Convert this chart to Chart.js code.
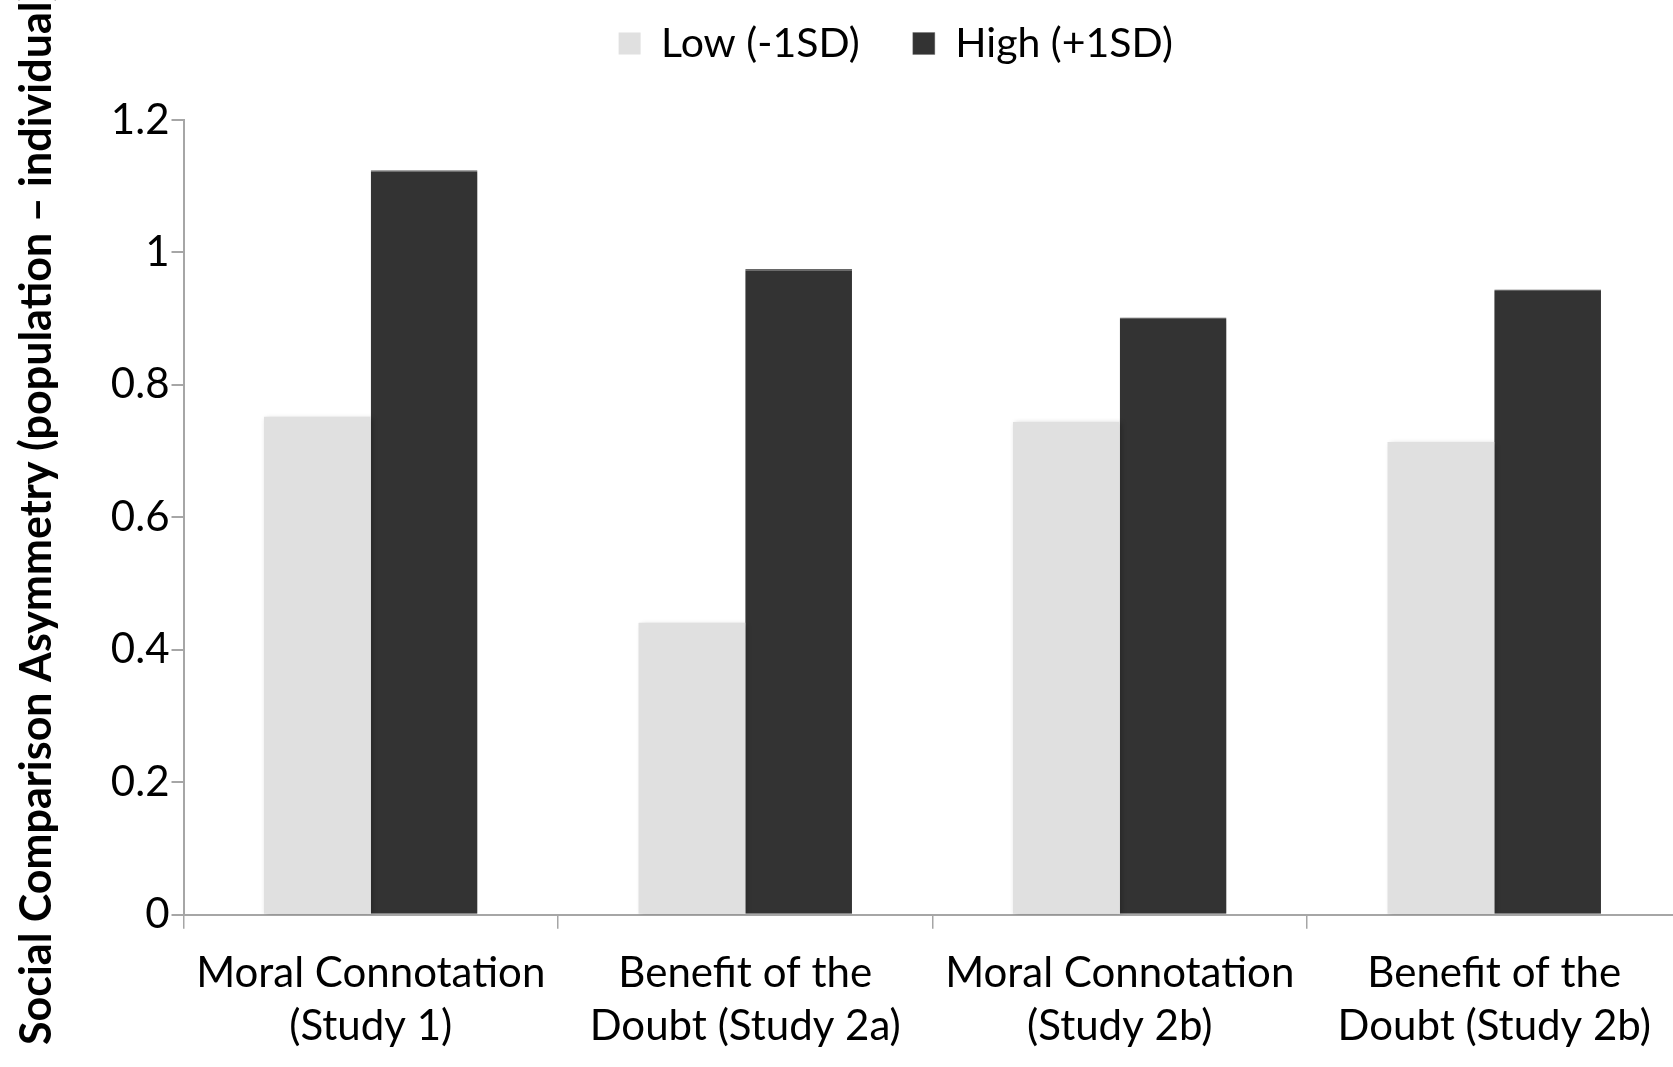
<!DOCTYPE html>
<html>
<head>
<meta charset="utf-8">
<script src="https://cdn.jsdelivr.net/npm/chart.js@4/dist/chart.umd.min.js"></script>
<style>
  html, body { margin: 0; padding: 0; background: #fff; overflow: hidden; }
  #wrap { width: 1690px; height: 1067px; }
</style>
</head>
<body>
<div id="wrap"><canvas id="c"></canvas></div>
<script>
/* ── data ── */
const categories = [
  ['Moral Connotation', '(Study 1)'],
  ['Benefit of the', 'Doubt (Study 2a)'],
  ['Moral Connotation', '(Study 2b)'],
  ['Benefit of the', 'Doubt (Study 2b)']
];
const lowValues  = [0.752, 0.441, 0.744, 0.714];
const highValues = [1.124, 0.975, 0.902, 0.944];
const seriesNames = ['Low (-1SD)', 'High (+1SD)'];
const yTitle = 'Social Comparison Asymmetry (population \u2013 individual)';

const FONT = 'Lato, "Open Sans", sans-serif';
const AXIS = '#a6a6a6';

// soft drop shadow behind the bars, like the original
const barShadow = {
  id: 'barShadow',
  beforeDatasetsDraw(chart) {
    const ctx = chart.ctx;
    ctx.save();
    ctx.shadowColor = 'rgba(0,0,0,0.22)';
    ctx.shadowBlur = 5;
    ctx.shadowOffsetX = 2;
    ctx.shadowOffsetY = 1;
  },
  afterDatasetsDraw(chart) { chart.ctx.restore(); }
};

new Chart(document.getElementById('c'), {
  type: 'bar',
  data: {
    labels: categories,
    datasets: [
      { label: seriesNames[0], data: lowValues, backgroundColor: '#e0e0e0', categoryPercentage: 0.57, barPercentage: 1.0 },
      { label: seriesNames[1], data: highValues, backgroundColor: '#333333', borderColor: '#6a6a6a',
        borderWidth: { top: 1.5, left: 0, right: 0, bottom: 0 }, borderSkipped: 'bottom',
        categoryPercentage: 0.57, barPercentage: 1.0 }
    ]
  },
  options: {
    responsive: true,
    maintainAspectRatio: false,
    animation: false,
    // left padding shifts the legend centre; the y axis box is narrowed to match
    layout: { padding: { top: -30, right: 8.5, bottom: -4.5, left: 110 } },
    plugins: {
      legend: {
        position: 'top',
        labels: {
          color: '#000',
          font: { family: FONT, size: 41 },
          boxWidth: 22,
          boxHeight: 22,
          padding: 53
        }
      },
      // empty spacer between legend and plot
      subtitle: {
        display: true,
        text: '',
        weight: 500,
        font: { size: 1, lineHeight: 1 },
        padding: { top: 45, bottom: 0 }
      },
      tooltip: { enabled: false }
    },
    scales: {
      x: {
        border: { color: AXIS, width: 2 },
        grid: { display: true, drawOnChartArea: false, color: AXIS, lineWidth: 1.5, tickLength: 14 },
        ticks: { color: '#000', font: { family: FONT, size: 42, lineHeight: 1.27 }, padding: 18, maxRotation: 0, autoSkip: false }
      },
      y: {
        min: 0,
        max: 1.2,
        border: { color: AXIS, width: 2 },
        grid: { display: true, drawOnChartArea: false, color: AXIS, lineWidth: 2, tickLength: 12 },
        ticks: {
          stepSize: 0.2,
          color: '#000',
          font: { family: FONT, size: 42 },
          padding: 2,
          callback: v => String(Number(v.toFixed(1)))
        },
        title: {
          display: true,
          text: yTitle,
          color: '#000',
          font: { family: FONT, size: 43, weight: 'bold' },
          padding: { top: -99, bottom: 0 }
        },
        afterFit: s => { s.width = 73.5; }
      }
    }
  },
  plugins: [barShadow]
});
</script>
</body>
</html>
